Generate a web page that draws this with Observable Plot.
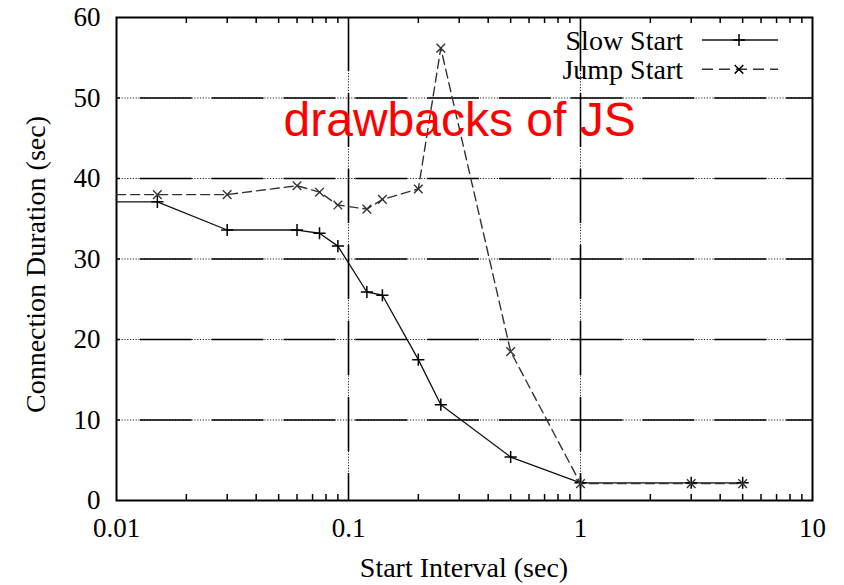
<!DOCTYPE html>
<html><head><meta charset="utf-8">
<script src="https://cdn.jsdelivr.net/npm/d3@7"></script>
<script src="https://cdn.jsdelivr.net/npm/@observablehq/plot@0.6"></script>
<style>
body{margin:0;background:#fff}
#chart svg{display:block}
</style></head><body><div id="chart"></div>
<script>
// ---- data ----
const intervals = [0.005, 0.015, 0.03, 0.06, 0.075, 0.09, 0.12, 0.14, 0.2, 0.25, 0.5, 1, 3, 5];
const slowStart = [37.1, 37.1, 33.6, 33.6, 33.2, 31.6, 25.9, 25.5, 17.5, 11.9, 5.4, 2.2, 2.2, 2.2];
const jumpStart = [38.0, 38.0, 38.0, 39.1, 38.3, 36.7, 36.2, 37.4, 38.7, 56.2, 18.5, 2.1, 2.1, 2.1];
const seriesNames = ["Slow Start", "Jump Start"];
const xTicks = [0.01, 0.1, 1, 10];
const yTicks = [0, 10, 20, 30, 40, 50, 60];
const gridX = [0.1, 1];
const gridY = [10, 20, 30, 40, 50];
const decades = [0.01, 0.1, 1];
const minorSteps = [2, 3, 4, 5, 6, 7, 8, 9];
const annotation = [{x: 0.0525, y: 47.2, text: "drawbacks of JS"}];
const xLabel = "Start Interval (sec)";
const yLabel = "Connection Duration (sec)";

// ---- build ----
const slowData = intervals.map((x, i) => ({x, y: slowStart[i]}));
const jumpData = intervals.map((x, i) => ({x, y: jumpStart[i]}));
const minorX = decades.flatMap(d => minorSteps.map(s => +(d * s).toPrecision(3)));

const W = 844, H = 585, mL = 116, mR = 32, mT = 17, mB = 85;
const plotH = H - mT - mB;
const serif = "'Liberation Serif', 'Times New Roman', serif";
const jumpDash = "9,5";

const chart = Plot.plot({
  width: W, height: H,
  marginLeft: mL, marginRight: mR, marginTop: mT, marginBottom: mB,
  style: {fontFamily: serif, fontSize: "27px", color: "#000", background: "#fff", overflow: "visible"},
  x: {type: "log", domain: [0.01, 10]},
  y: {domain: [0, 60]},
  marks: [
    Plot.ruleY(gridY, {stroke: "#222", strokeWidth: 1, strokeDasharray: "1.2,1.6"}),
    Plot.ruleY(gridY, {stroke: "#000", strokeWidth: 1.6, strokeDasharray: "51.8,20", strokeDashoffset: 47.9}),
    Plot.ruleX(gridX, {stroke: "#222", strokeWidth: 1, strokeDasharray: "1.2,1.6"}),
    Plot.ruleX(gridX, {stroke: "#000", strokeWidth: 1.6, strokeDasharray: "54,22"}),
    Plot.ruleX(minorX, {insetTop: plotH - 6, stroke: "#000", strokeWidth: 1.5}),
    Plot.ruleX(minorX, {insetBottom: plotH - 6, stroke: "#000", strokeWidth: 1.5}),
    Plot.frame({stroke: "#000", strokeWidth: 2}),
    Plot.axisX({ticks: xTicks, tickSize: 0, tickPadding: 17, tickFormat: d => String(d), label: null}),
    Plot.axisY({ticks: yTicks, tickSize: 0, tickPadding: 16, label: null}),
    Plot.line(slowData, {x: "x", y: "y", stroke: "#111", strokeWidth: 1.3, clip: true}),
    Plot.line(jumpData, {x: "x", y: "y", stroke: "#333", strokeWidth: 1.4, strokeDasharray: jumpDash, clip: true}),
    Plot.dot(slowData, {x: "x", y: "y", symbol: "plus", r: 4, stroke: "#000", strokeWidth: 1.5, clip: true}),
    Plot.dot(jumpData, {x: "x", y: "y", symbol: "times", r: 4, stroke: "#333", strokeWidth: 1.4, clip: true}),
    Plot.text(annotation, {x: "x", y: "y", text: "text", textAnchor: "start", lineAnchor: "middle",
      fill: "#ff0000", fontSize: 48, fontFamily: "'Liberation Sans', Arial, sans-serif"})
  ]
});

const svg = d3.select(chart);
// axis titles
svg.append("text")
  .attr("x", (mL + W - mR) / 2).attr("y", 577)
  .attr("text-anchor", "middle")
  .attr("font-family", serif).attr("font-size", 28).attr("fill", "#000")
  .text(xLabel);
svg.append("text")
  .attr("transform", `translate(45,${(mT + H - mB) / 2 + 6}) rotate(-90)`)
  .attr("text-anchor", "middle")
  .attr("font-family", serif).attr("font-size", 28).attr("fill", "#000")
  .text(yLabel);

// legend
const legendStyles = [
  {dash: null, symbol: d3.symbolPlus, stroke: "#111"},
  {dash: "11,6", symbol: d3.symbolTimes, stroke: "#333"}
];
const lg = svg.append("g");
seriesNames.forEach((name, i) => {
  const base = 49.5 + i * 29.5;
  const ly = 40 + i * 29.3;
  lg.append("text").attr("x", 683).attr("y", base).attr("text-anchor", "end")
    .attr("font-family", serif).attr("font-size", 28).attr("fill", "#000").text(name);
  lg.append("line").attr("x1", 702).attr("x2", 778).attr("y1", ly).attr("y2", ly)
    .attr("stroke", legendStyles[i].stroke).attr("stroke-width", 1.4)
    .attr("stroke-dasharray", legendStyles[i].dash);
  lg.append("path").attr("transform", `translate(739,${ly})`)
    .attr("d", d3.symbol(legendStyles[i].symbol, 50)())
    .attr("fill", "none").attr("stroke", "#000").attr("stroke-width", 1.5);
});

document.getElementById("chart").appendChild(chart);
</script>
</body></html>
